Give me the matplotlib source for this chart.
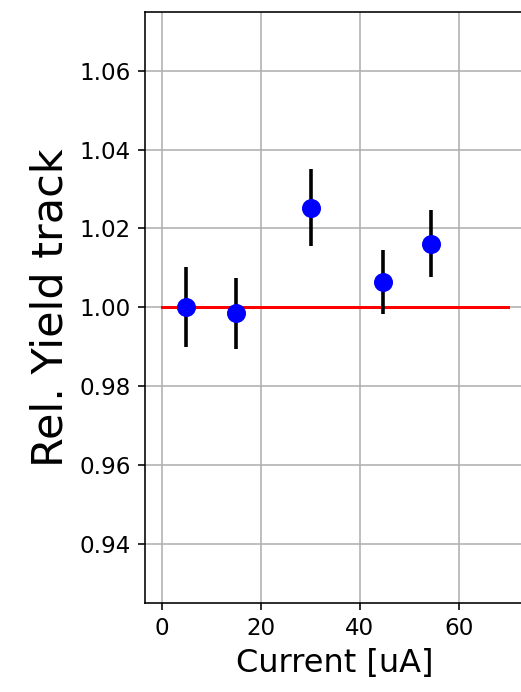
import numpy as np
import matplotlib
matplotlib.use("Agg")
import matplotlib.pyplot as plt

# data
current   = [4.8, 14.9, 30.0, 44.6, 54.4]
rel_yield = [1.0001, 0.9985, 1.0253, 1.0064, 1.0161]
yield_err = [0.0101, 0.0090, 0.0097, 0.0082, 0.0085]
ref_x     = [0, 70]
ref_y     = [1.0, 1.0]

dpi = 144
fig = plt.figure(figsize=(521 / dpi, 692 / dpi), dpi=dpi)
ax = fig.add_axes([0.2783, 0.1290, 0.7302, 0.8541])

ax.plot(ref_x, ref_y, color="red", lw=1.5, zorder=2)
ax.errorbar(current, rel_yield, yerr=yield_err, fmt="o", color="blue",
            ecolor="black", elinewidth=1.8, markersize=8.5, zorder=3)

ax.set_xlim(-3.5, 73.5)
ax.set_ylim(0.925, 1.075)
ax.set_xticks([0, 20, 40, 60])
ax.set_yticks([0.94, 0.96, 0.98, 1.00, 1.02, 1.04, 1.06])
ax.tick_params(labelsize=11.5)
ax.set_xlabel("Current [uA]", fontsize=16)
ax.set_ylabel("Rel. Yield track", fontsize=21.5)
ax.grid(True)
ax.set_axisbelow(True)
# the right edge of the axes falls off the canvas in the reference
ax.spines["right"].set_visible(False)

fig.savefig("out.png", dpi=dpi)
